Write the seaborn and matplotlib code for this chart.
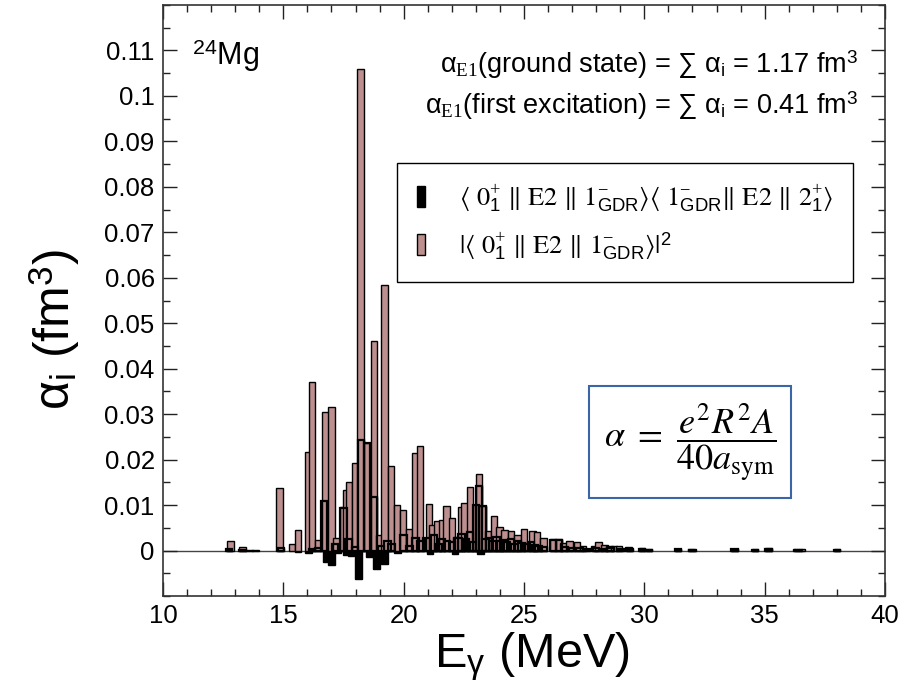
import numpy as np
import pandas as pd
import matplotlib
matplotlib.use("Agg")
import matplotlib.pyplot as plt
import seaborn as sns
from matplotlib.patches import Patch
from matplotlib.ticker import FixedLocator, FixedFormatter, MultipleLocator

# ---------------- data ----------------
ground_energy = [12.8, 13.3, 13.6, 13.85, 14.85, 15.35, 15.6, 16.05, 16.2, 16.45,
                 16.75, 17.0, 17.2, 17.5, 17.62, 17.72, 17.97, 18.2, 18.47, 18.77,
                 19.0, 19.2, 19.47, 19.72, 19.97, 20.22, 20.47, 20.68, 21.05, 21.2,
                 21.4, 21.6, 21.77, 22.0, 22.2, 22.4, 22.52, 22.75, 23.0, 23.13,
                 23.27, 23.5, 23.75, 23.98, 24.2, 24.45, 24.72, 25.0, 25.35, 25.55,
                 25.8, 26.2, 26.45, 26.65, 26.9, 27.2, 27.45, 27.9, 28.1, 28.35,
                 28.55, 28.75, 28.95, 29.35, 29.9, 30.2, 31.4, 31.95, 33.75, 34.6,
                 35.15, 36.3, 36.55, 38.0]
ground_alpha = [0.0022, 0.0008, 0.0002, 0.0002, 0.0137, 0.0014, 0.0045, 0.0217, 0.0370, 0.0024,
                0.0304, 0.0316, 0.0028, 0.0095, 0.0134, 0.0150, 0.0193, 0.1060, 0.0236, 0.0462,
                0.0035, 0.0583, 0.0186, 0.0100, 0.0089, 0.0048, 0.0215, 0.0230, 0.0103, 0.0056,
                0.0064, 0.0067, 0.0097, 0.0071, 0.0030, 0.0095, 0.0104, 0.0139, 0.0101, 0.0168,
                0.0097, 0.0042, 0.0075, 0.0051, 0.0046, 0.0042, 0.0035, 0.0048, 0.0042, 0.0040,
                0.0027, 0.0025, 0.0025, 0.0016, 0.0021, 0.0018, 0.0009, 0.0009, 0.0018, 0.0013,
                0.0011, 0.0011, 0.0009, 0.0007, 0.0005, 0.0004, 0.0004, 0.0004, 0.0004, 0.0003,
                0.0005, 0.0003, 0.0003, 0.0003]

excited_energy = [12.75, 13.3, 14.9, 15.6, 16.05, 16.2, 16.45, 16.7, 16.8, 17.0,
                  17.15, 17.27, 17.5, 17.6, 17.7, 17.82, 17.97, 18.12, 18.22, 18.47,
                  18.58, 18.77, 18.87, 19.05, 19.2, 19.32, 19.5, 19.75, 20.0, 20.25,
                  20.5, 20.7, 20.95, 21.1, 21.25, 21.45, 21.6, 21.8, 22.0, 22.13,
                  22.27, 22.4, 22.6, 22.75, 22.88, 23.0, 23.13, 23.2, 23.27, 23.4,
                  23.55, 23.7, 23.85, 24.0, 24.15, 24.3, 24.45, 24.6, 24.75, 24.9,
                  25.1, 25.3, 25.45, 25.6, 25.8, 26.2, 26.45, 26.7, 27.0, 27.3,
                  27.6, 28.0, 28.3, 28.6, 29.0, 29.4, 29.9, 30.2, 31.4, 32.0,
                  33.75, 34.6, 35.15, 36.4, 38.0]
excited_alpha = [0.0003, 0.0002, 0.0006, -0.0004, -0.0006, 0.0004, 0.0005, 0.0110, -0.0025, -0.0031,
                 0.0015, -0.0006, 0.0094, -0.0009, 0.0025, -0.0012, 0.0008, -0.0062, 0.0244, 0.0236,
                 -0.0015, 0.0117, -0.0040, 0.0010, -0.0029, 0.0020, 0.0015, -0.0005, 0.0035, 0.0010,
                 0.0028, 0.0022, 0.0028, -0.0008, 0.0035, 0.0015, 0.0025, 0.0022, 0.0018, -0.0008,
                 0.0028, 0.0037, 0.0025, 0.0040, 0.0018, 0.0101, 0.0143, -0.0007, 0.0097, 0.0025,
                 0.0028, 0.0022, 0.0030, 0.0020, 0.0024, 0.0018, 0.0025, 0.0015, 0.0020, 0.0016,
                 0.0014, 0.0018, 0.0012, 0.0010, 0.0008, 0.0024, 0.0024, 0.0008, 0.0006, 0.0005,
                 0.0004, 0.0005, 0.0004, 0.0005, 0.0004, 0.0003, 0.0003, 0.0002, 0.0003, 0.0002,
                 0.0003, 0.0002, 0.0003, 0.0002, 0.0002]

x_ticks = [10, 15, 20, 25, 30, 35, 40]
x_tick_labels = ["10", "15", "20", "25", "30", "35", "40"]
y_ticks = [0, 0.01, 0.02, 0.03, 0.04, 0.05, 0.06, 0.07, 0.08, 0.09, 0.1, 0.11]
y_tick_labels = ["0", "0.01", "0.02", "0.03", "0.04", "0.05", "0.06", "0.07",
                 "0.08", "0.09", "0.1", "0.11"]

# ---------------- style ----------------
sns.set_style("ticks")
plt.rcParams["font.family"] = ["Liberation Sans", "DejaVu Sans"]
plt.rcParams["mathtext.fontset"] = "custom"
plt.rcParams["mathtext.rm"] = "Liberation Serif"
plt.rcParams["mathtext.it"] = "Liberation Serif:italic"
plt.rcParams["mathtext.bf"] = "Liberation Serif:bold"
plt.rcParams["mathtext.sf"] = "Liberation Sans"
for k in ["text.color", "axes.labelcolor", "xtick.color", "ytick.color"]:
    plt.rcParams[k] = "black"

PINK = "#bd8f8f"
BAR_W = 0.27

fig = plt.figure(figsize=(9.2, 6.94), dpi=100)
ax = fig.add_axes([163 / 920, 98 / 694, 722 / 920, 591 / 694])


def native_width(energies):
    e = np.unique(np.asarray(energies, dtype=float))
    return BAR_W / np.min(np.diff(e))


ground = pd.DataFrame({"E": ground_energy, "alpha": ground_alpha})
excited = pd.DataFrame({"E": excited_energy, "alpha": excited_alpha})
exc_pos = excited[excited["alpha"] > 0]

ax.axhline(0, color="#444444", lw=1.0, zorder=0.5)

# filled black bars (below)
sns.barplot(data=excited, x="E", y="alpha", native_scale=True, orient="x",
            width=native_width(excited["E"]), color="black", saturation=1,
            edgecolor="black", linewidth=1.0, errorbar=None, ax=ax)
# pink bars
sns.barplot(data=ground, x="E", y="alpha", native_scale=True, orient="x",
            width=native_width(ground["E"]), color=PINK, saturation=1,
            edgecolor="black", linewidth=1.0, errorbar=None, ax=ax)
# black outlines on top
sns.barplot(data=exc_pos, x="E", y="alpha", native_scale=True, orient="x",
            width=native_width(exc_pos["E"]), color="black", fill=False,
            linewidth=1.6, errorbar=None, ax=ax)

ax.set_xlim(10, 40)
ax.set_ylim(-0.01, 0.12)

ax.xaxis.set_major_locator(FixedLocator(x_ticks))
ax.xaxis.set_major_formatter(FixedFormatter(x_tick_labels))
ax.xaxis.set_minor_locator(MultipleLocator(1))
ax.yaxis.set_major_locator(FixedLocator(y_ticks))
ax.yaxis.set_major_formatter(FixedFormatter(y_tick_labels))
ax.yaxis.set_minor_locator(MultipleLocator(0.005))

ax.tick_params(which="both", direction="in", top=True, right=True, width=1,
               color="#222222")
ax.tick_params(which="major", length=10, labelsize=18.5, pad=6)
ax.tick_params(which="minor", length=5)
for s in ax.spines.values():
    s.set_linewidth(1.2)
    s.set_color("#333333")

ax.set_xlabel(r"E$_{\mathsf{γ}}$ (MeV)", fontsize=35)
ax.set_ylabel(r"α$_{\mathsf{i}}$ (fm$^{\mathsf{3}}$)", fontsize=36)
ax.xaxis.set_label_coords(0.511, -0.058)
ax.yaxis.set_label_coords(-0.112, 0.45)

# annotations
ax.text(0.040, 0.8985, r"$^{\mathsf{24}}$Mg", transform=ax.transAxes,
        fontsize=22, ha="left", va="baseline")
ax.text(0.9626, 0.885,
        r"α$_{\mathrm{E1}}$(ground state) = ∑ α$_{\mathsf{i}}$ = 1.17 fm$^{\mathsf{3}}$",
        transform=ax.transAxes, fontsize=19.5, ha="right", va="baseline")
ax.text(0.9626, 0.8156,
        r"α$_{\mathrm{E1}}$(first excitation) = ∑ α$_{\mathsf{i}}$ = 0.41 fm$^{\mathsf{3}}$",
        transform=ax.transAxes, fontsize=19.5, ha="right", va="baseline")

ax.text(0.730, 0.261, r"$\alpha\ =\ \dfrac{e^2R^2A}{40a_{\mathrm{sym}}}$",
        transform=ax.transAxes, fontsize=26, ha="center", va="center",
        math_fontfamily="stix",
        bbox=dict(boxstyle="square,pad=0.42", fc="white", ec="#3a66a8", lw=1.5))

label1 = ("⟨ 0$^{+}_{\\mathsf{1}}$ ‖ E2 ‖ 1$^{-}_{\\mathsf{GDR}}$⟩"
          "⟨ 1$^{-}_{\\mathsf{GDR}}$‖ E2 ‖ 2$^{+}_{\\mathsf{1}}$⟩")
label2 = "|⟨ 0$^{+}_{\\mathsf{1}}$ ‖ E2 ‖ 1$^{-}_{\\mathsf{GDR}}$⟩|$^{\\mathsf{2}}$"
handles = [Patch(facecolor="black", edgecolor="black", lw=1),
           Patch(facecolor=PINK, edgecolor="black", lw=1)]
leg = ax.legend(handles=handles, labels=[label1, label2], loc="upper right",
                bbox_to_anchor=(0.956, 0.733),
                prop={"family": "STIXGeneral", "size": 19},
                frameon=True, fancybox=False, edgecolor="black", framealpha=1,
                handlelength=0.3, handleheight=0.85, handletextpad=1.3,
                borderpad=0.75, labelspacing=0.6, borderaxespad=0)
leg.get_frame().set_linewidth(1.0)

fig.savefig("out.png", dpi=100)
